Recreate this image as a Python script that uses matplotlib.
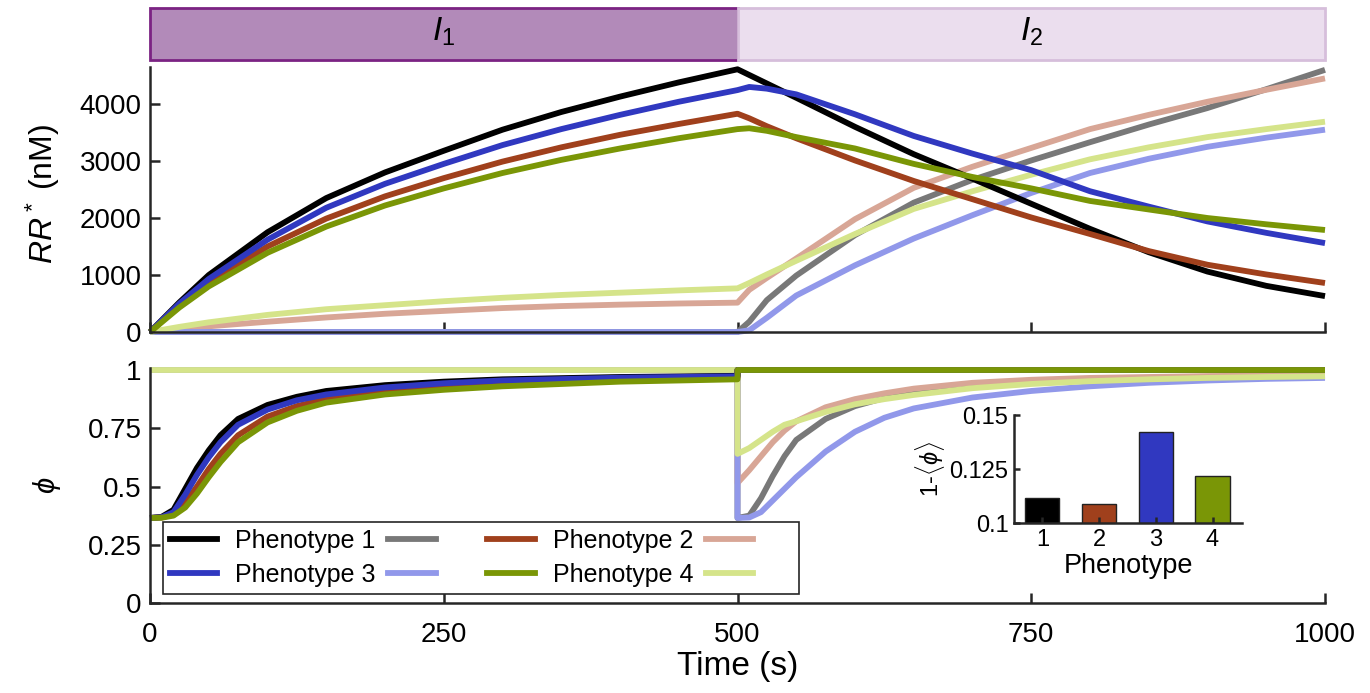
import matplotlib
matplotlib.use("Agg")
import matplotlib.pyplot as plt
from matplotlib.lines import Line2D

plt.rcParams['font.family'] = ['Liberation Sans', 'DejaVu Sans']
plt.rcParams['mathtext.fontset'] = 'custom'
plt.rcParams['mathtext.rm'] = 'Liberation Sans'
plt.rcParams['mathtext.it'] = 'Liberation Sans:italic'
plt.rcParams['mathtext.bf'] = 'Liberation Sans:bold'

# ---- data ----
# RR* (nM), phase I1 (0-500 s) and phase I2 (500-1000 s)
t_rr1 = [0, 25, 50, 100, 150, 200, 250, 300, 350, 400, 450, 500]
t_rr2 = [500, 510, 525, 550, 600, 650, 700, 750, 800, 850, 900, 950, 1000]

rr_dark1 = {
    1: [0, 520, 1000, 1750, 2350, 2800, 3180, 3550, 3860, 4130, 4380, 4610],
    2: [0, 470, 870, 1500, 1990, 2380, 2700, 2990, 3240, 3460, 3650, 3830],
    3: [0, 500, 930, 1620, 2180, 2600, 2950, 3280, 3560, 3810, 4040, 4245],
    4: [0, 430, 800, 1390, 1850, 2220, 2520, 2790, 3020, 3220, 3400, 3560],
}
rr_dark2 = {
    1: [4610, 4510, 4360, 4110, 3600, 3120, 2690, 2250, 1810, 1400, 1060, 810, 630],
    2: [3830, 3750, 3610, 3400, 3010, 2650, 2330, 2010, 1720, 1420, 1180, 1010, 860],
    3: [4245, 4300, 4270, 4170, 3820, 3440, 3130, 2840, 2470, 2200, 1940, 1740, 1560],
    4: [3560, 3575, 3530, 3420, 3220, 2950, 2720, 2520, 2300, 2150, 2000, 1890, 1790],
}
rr_light1 = {
    1: [0, 0, 0, 0, 0, 0, 0, 0, 0, 0, 0, 0],
    2: [0, 50, 100, 180, 255, 320, 370, 420, 455, 480, 500, 515],
    3: [0, 0, 0, 0, 0, 0, 0, 0, 0, 0, 0, 0],
    4: [0, 90, 170, 300, 400, 470, 540, 600, 650, 690, 730, 766],
}
rr_light2 = {
    1: [0, 180, 560, 990, 1700, 2270, 2670, 3010, 3330, 3640, 3930, 4260, 4600],
    2: [515, 740, 950, 1290, 1980, 2530, 2900, 3230, 3560, 3810, 4040, 4250, 4450],
    3: [0, 30, 250, 640, 1170, 1640, 2050, 2440, 2790, 3040, 3250, 3410, 3550],
    4: [766, 860, 1010, 1250, 1720, 2160, 2470, 2760, 3030, 3240, 3420, 3560, 3690],
}

# phi, phase I1 (dark curves; light curves sit at 1) and phase I2 (light curves; dark at 1)
t_phi1 = [0, 10, 20, 30, 40, 50, 60, 75, 100, 125, 150, 200, 250, 300, 400, 500]
phi_dark1 = {
    1: [0.365, 0.37, 0.40, 0.49, 0.58, 0.655, 0.72, 0.79, 0.85, 0.885, 0.91, 0.935, 0.95, 0.96, 0.97, 0.975],
    2: [0.365, 0.367, 0.38, 0.43, 0.50, 0.575, 0.64, 0.72, 0.80, 0.845, 0.875, 0.91, 0.93, 0.945, 0.96, 0.968],
    3: [0.365, 0.368, 0.39, 0.465, 0.55, 0.625, 0.69, 0.765, 0.83, 0.87, 0.895, 0.925, 0.943, 0.955, 0.967, 0.973],
    4: [0.365, 0.366, 0.375, 0.41, 0.47, 0.54, 0.605, 0.69, 0.775, 0.825, 0.86, 0.895, 0.915, 0.93, 0.95, 0.96],
}
t_phi2 = [500, 510, 520, 530, 540, 550, 575, 600, 625, 650, 700, 750, 800, 850, 900, 950, 1000]
phi_light2 = {
    1: [0.365, 0.375, 0.45, 0.545, 0.63, 0.70, 0.79, 0.845, 0.88, 0.905, 0.932, 0.948, 0.958, 0.964, 0.968, 0.971, 0.974],
    2: [0.515, 0.57, 0.63, 0.69, 0.74, 0.78, 0.84, 0.875, 0.90, 0.92, 0.945, 0.958, 0.966, 0.970, 0.974, 0.976, 0.978],
    3: [0.365, 0.367, 0.39, 0.44, 0.49, 0.54, 0.65, 0.735, 0.795, 0.835, 0.882, 0.91, 0.93, 0.945, 0.955, 0.962, 0.966],
    4: [0.64, 0.665, 0.70, 0.735, 0.765, 0.78, 0.82, 0.853, 0.875, 0.893, 0.922, 0.94, 0.952, 0.96, 0.966, 0.97, 0.973],
}

# inset: 1 - <phi>
phenotypes = [1, 2, 3, 4]
one_minus_phi = [0.1115, 0.1088, 0.1423, 0.1217]

dark_colors = {1: '#000000', 2: '#a0401c', 3: '#3038c0', 4: '#7a9606'}
light_colors = {1: '#787878', 2: '#d8a696', 3: '#9198ea', 4: '#d5e48a'}

spine_c = '#262626'
lw = 4.2

fig = plt.figure(figsize=(13.7, 6.93), dpi=100)
W, H = 1370, 693
ax_bar = fig.add_axes([150 / W, (H - 60) / H, 1175 / W, 52 / H])
ax_top = fig.add_axes([150 / W, (H - 332) / H, 1175 / W, (332 - 67) / H])
ax_bot = fig.add_axes([150 / W, (H - 603) / H, 1175 / W, (603 - 368) / H])
ax_in = fig.add_axes([1014 / W, (H - 523) / H, 228 / W, 108 / H])

# ---- phase bar ----
ax_bar.barh(0, 500, left=0, height=1, color='#b28ab9', edgecolor='#7b2383', linewidth=2, clip_on=False)
ax_bar.barh(0, 500, left=500, height=1, color='#ebdeee', edgecolor='#d6bedb', linewidth=2, clip_on=False)
ax_bar.set_xlim(0, 1000)
ax_bar.set_ylim(-0.5, 0.5)
ax_bar.axis('off')
ax_bar.text(250, 0.05, '$I_1$', ha='center', va='center', fontsize=24)
ax_bar.text(750, 0.05, '$I_2$', ha='center', va='center', fontsize=24)

# ---- RR* panel ----
for p in [1, 2, 3, 4]:
    ax_top.plot(t_rr1 + t_rr2, rr_light1[p] + rr_light2[p], color=light_colors[p], lw=lw,
                solid_capstyle='butt', clip_on=False)
for p in [1, 2, 3, 4]:
    ax_top.plot(t_rr1 + t_rr2, rr_dark1[p] + rr_dark2[p], color=dark_colors[p], lw=lw,
                solid_capstyle='butt', clip_on=False)
ax_top.set_xlim(0, 1000)
ax_top.set_ylim(0, 4650)
ax_top.set_yticks([0, 1000, 2000, 3000, 4000])
ax_top.set_xticks([0, 250, 500, 750, 1000])
ax_top.set_xticklabels([])
ax_top.set_ylabel('$RR^*$ (nM)', fontsize=23)
ax_top.yaxis.set_label_coords(-0.075, 0.52)

# ---- phi panel ----
for p in [1, 2, 3, 4]:
    ax_bot.plot(t_phi1 + t_phi2, [1] * len(t_phi1) + phi_light2[p], color=light_colors[p], lw=lw,
                solid_capstyle='butt', clip_on=False)
for p in [1, 2, 3, 4]:
    ax_bot.plot(t_phi1 + t_phi2, phi_dark1[p] + [1] * len(t_phi2), color=dark_colors[p], lw=lw,
                solid_capstyle='butt', clip_on=False)
ax_bot.set_xlim(0, 1000)
ax_bot.set_ylim(0, 1.0086)
ax_bot.set_xticks([0, 250, 500, 750, 1000])
ax_bot.set_yticks([0, 0.25, 0.5, 0.75, 1])
ax_bot.set_yticklabels(['0', '0.25', '0.5', '0.75', '1'])

for ax in (ax_top, ax_bot, ax_in):
    for s in ('top', 'right'):
        ax.spines[s].set_visible(False)
    for s in ('left', 'bottom'):
        ax.spines[s].set_color(spine_c)
        ax.spines[s].set_linewidth(1.8)
    ax.tick_params(direction='in', length=7, width=1.8, color=spine_c, labelsize=20, pad=6)
ax_bot.tick_params(axis='x', pad=14)

ax_bot.set_xlabel('Time (s)', fontsize=24, labelpad=2)
ax_bot.set_ylabel(r'$\phi$', fontsize=21)
ax_bot.yaxis.set_label_coords(-0.074, 0.5)

# legend: dark line, label, light line
h = lambda c: Line2D([], [], color=c, lw=lw)
handles = [h(dark_colors[1]), h(dark_colors[3]), h(light_colors[1]), h(light_colors[3]),
           h(dark_colors[2]), h(dark_colors[4]), h(light_colors[2]), h(light_colors[4])]
labels = ['Phenotype 1', 'Phenotype 3', '   ', '   ', 'Phenotype 2', 'Phenotype 4', '   ', '   ']
leg = ax_bot.legend(handles, labels, ncol=4, loc='lower left', bbox_to_anchor=(0.011, 0.038),
                    borderaxespad=0, fontsize=18, handlelength=1.9, handletextpad=0.72,
                    columnspacing=0.5, labelspacing=0.4, borderpad=0.28, frameon=True,
                    fancybox=False, framealpha=1)
leg.get_frame().set_edgecolor(spine_c)
leg.get_frame().set_linewidth(1.2)

# ---- inset ----
ax_in.bar(phenotypes, one_minus_phi, width=0.6,
          color=[dark_colors[p] for p in phenotypes], edgecolor='#222222', linewidth=1)
ax_in.set_xlim(0.5, 4.52)
ax_in.set_ylim(0.1, 0.15)
ax_in.set_xticks(phenotypes)
ax_in.set_yticks([0.1, 0.125, 0.15])
ax_in.set_yticklabels(['0.1', '0.125', '0.15'])
ax_in.tick_params(labelsize=17, length=4, pad=4)
ax_in.set_xlabel('Phenotype', fontsize=19.5, labelpad=2)
ax_in.set_ylabel(r'1-$\langle\phi\rangle$', fontsize=17, labelpad=2)
ax_in.patch.set_alpha(0)

fig.savefig('out.png', dpi=100)
